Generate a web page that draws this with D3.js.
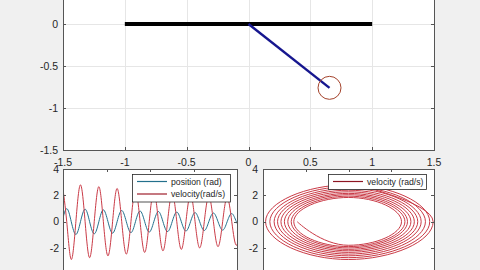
<!DOCTYPE html>
<html>
<head>
<meta charset="utf-8">
<script src="https://cdn.jsdelivr.net/npm/d3@7"></script>
<style>
  html, body { margin: 0; padding: 0; background: #f0f0f0; overflow: hidden; }
  svg { display: block; font-family: 'Liberation Sans', Arial, sans-serif; }
</style>
</head>
<body>
<script>
// pendulum snapshot (top axes)
var baseX = [-1, 1],
    baseY = [0, 0],
    rodX  = [0, 0.655],
    rodY  = [0, -0.76];

var topTicks = [-1.5, -1, -0.5, 0, 0.5, 1, 1.5];

// quarter-period samples (time in s)
var t   = [-0.10, 0.43, 0.95, 1.48, 2.01, 2.54, 3.06, 3.59, 4.12, 4.64,
           5.17, 5.70, 6.22, 6.75, 7.28, 7.81, 8.33, 8.86, 9.39, 9.91,
           10.44, 10.97, 11.49, 12.02, 12.55, 13.08, 13.60, 14.13, 14.66, 15.18,
           15.71, 16.24, 16.76, 17.29, 17.82, 18.35, 18.87, 19.40, 19.93, 20.45],
    pos = [0, 0.99, 0, -0.97, 0, 0.95, 0, -0.92, 0, 0.90,
           0, -0.87, 0, 0.85, 0, -0.83, 0, 0.81, 0, -0.79,
           0, 0.77, 0, -0.75, 0, 0.73, 0, -0.71, 0, 0.69,
           0, -0.67, 0, 0.66, 0, -0.64, 0, 0.62, 0, -0.60],
    vel = [2.95, 0, -2.87, 0, 2.80, 0, -2.73, 0, 2.66, 0,
           -2.59, 0, 2.52, 0, -2.46, 0, 2.39, 0, -2.33, 0,
           2.27, 0, -2.21, 0, 2.15, 0, -2.10, 0, 2.05, 0,
           -1.99, 0, 1.94, 0, -1.89, 0, 1.84, 0, -1.79, 0];

var timeTicks = [0, 5, 10, 15, 20],
    rateTicks = [-4, -2, 0, 2, 4],
    posTicks  = [-1, -0.5, 0, 0.5, 1];

var legendLeft  = ['position (rad)', 'velocity(rad/s)'],
    legendRight = ['velocity (rad/s)'];

var width  = 480,
    height = 270,
    INK    = '#262626',
    FRAME  = '#555555',
    GRID   = '#e6e6e6',
    BLUE   = '#23708c',
    RED    = '#c93a46',
    idx    = d3.range(t.length);

var svg = d3.select('body').append('svg')
    .attr('width', width)
    .attr('height', height);

svg.append('rect')
    .attr('width', width)
    .attr('height', height)
    .attr('fill', '#f0f0f0');

// scales
var xTop = d3.scaleLinear().domain([-1.5, 1.5]).range([63, 434]),
    yTop = d3.scaleLinear().domain([-1.5, 1.5]).range([150, -102]),
    xBL  = d3.scaleLinear().domain([0, 20]).range([63, 237]),
    yBL  = d3.scaleLinear().domain([-4, 4]).range([274.4, 169]),
    xBR  = d3.scaleLinear().domain([-1, 1]).range([263, 434]),
    yBR  = d3.scaleLinear().domain([-4, 4]).range([274.4, 169]);

function axesBack(x, y, xt, yt, grid) {
    var r = x.range(), s = y.range(),
        g = svg.append('g');
    g.append('rect')
        .attr('x', r[0]).attr('y', s[1])
        .attr('width', r[1] - r[0]).attr('height', s[0] - s[1])
        .attr('fill', '#fff');
    if (grid) {
        g.selectAll('.gx').data(xt).enter().append('line')
            .attr('x1', function(d) { return Math.round(x(d)) + 0.5; })
            .attr('x2', function(d) { return Math.round(x(d)) + 0.5; })
            .attr('y1', s[0]).attr('y2', s[1])
            .attr('stroke', GRID);
        g.selectAll('.gy').data(yt).enter().append('line')
            .attr('y1', function(d) { return Math.round(y(d)) + 0.5; })
            .attr('y2', function(d) { return Math.round(y(d)) + 0.5; })
            .attr('x1', r[0]).attr('x2', r[1])
            .attr('stroke', GRID);
    }
    return g;
}

function axesFront(x, y, xt, yt, ylabX) {
    var r = x.range(), s = y.range(),
        g = svg.append('g'),
        tk = 3;
    g.append('rect')
        .attr('x', Math.round(r[0]) + 0.5).attr('y', Math.round(s[1]) + 0.5)
        .attr('width', Math.round(r[1] - r[0])).attr('height', Math.round(s[0] - s[1]))
        .attr('fill', 'none')
        .attr('stroke', FRAME);
    xt.forEach(function(d) {
        var px = Math.round(x(d)) + 0.5;
        g.append('line').attr('x1', px).attr('x2', px)
            .attr('y1', s[0]).attr('y2', s[0] - tk).attr('stroke', FRAME);
        g.append('line').attr('x1', px).attr('x2', px)
            .attr('y1', s[1]).attr('y2', s[1] + tk).attr('stroke', FRAME);
        g.append('text')
            .attr('x', x(d)).attr('y', s[0] + 16)
            .attr('text-anchor', 'middle')
            .attr('font-size', '10.5px')
            .attr('fill', INK)
            .text(String(d));
    });
    yt.forEach(function(d) {
        var py = Math.round(y(d)) + 0.5;
        g.append('line').attr('y1', py).attr('y2', py)
            .attr('x1', r[0]).attr('x2', r[0] + tk).attr('stroke', FRAME);
        g.append('line').attr('y1', py).attr('y2', py)
            .attr('x1', r[1]).attr('x2', r[1] - tk).attr('stroke', FRAME);
        g.append('text')
            .attr('x', ylabX).attr('y', y(d))
            .attr('dy', '0.36em')
            .attr('text-anchor', 'end')
            .attr('font-size', '10.5px')
            .attr('fill', INK)
            .text(String(d));
    });
}

function clipFor(id, x, y) {
    var r = x.range(), s = y.range();
    svg.append('clipPath').attr('id', id)
        .append('rect')
        .attr('x', r[0]).attr('y', s[1])
        .attr('width', r[1] - r[0]).attr('height', s[0] - s[1]);
    return 'url(#' + id + ')';
}

function legend(x0, y0, w, h, labels, colors, rowH) {
    var g = svg.append('g');
    g.append('rect')
        .attr('x', x0 + 0.5).attr('y', y0 + 0.5)
        .attr('width', w).attr('height', h)
        .attr('fill', '#fff')
        .attr('stroke', INK)
        .attr('stroke-width', 0.8);
    labels.forEach(function(l, i) {
        var cy = y0 + 7.5 + i * rowH;
        g.append('line')
            .attr('x1', x0 + 5).attr('x2', x0 + 35)
            .attr('y1', cy).attr('y2', cy)
            .attr('stroke', colors[i]).attr('stroke-width', 1.2);
        g.append('text')
            .attr('x', x0 + 39).attr('y', cy + 3.2)
            .attr('font-size', '8.7px')
            .attr('fill', INK)
            .text(l);
    });
}

// ---- top: pendulum ----
axesBack(xTop, yTop, topTicks, topTicks, true);

svg.append('line')
    .attr('x1', xTop(baseX[0])).attr('x2', xTop(baseX[1]))
    .attr('y1', yTop(baseY[0])).attr('y2', yTop(baseY[1]))
    .attr('stroke', '#000')
    .attr('stroke-width', 4);

svg.append('line')
    .attr('x1', xTop(rodX[0])).attr('x2', xTop(rodX[1]))
    .attr('y1', yTop(rodY[0])).attr('y2', yTop(rodY[1]))
    .attr('stroke', '#16168f')
    .attr('stroke-width', 2.4);

svg.append('circle')
    .attr('cx', xTop(rodX[1])).attr('cy', yTop(rodY[1]))
    .attr('r', 11.5)
    .attr('fill', 'none')
    .attr('stroke', '#a4432c')
    .attr('stroke-width', 1);

axesFront(xTop, yTop, topTicks, topTicks, 58);

// ---- bottom left: time series ----
axesBack(xBL, yBL, timeTicks, rateTicks, false);
var clipL = clipFor('clipL', xBL, yBL);

var gL = svg.append('g').attr('clip-path', clipL);
gL.append('path')
    .datum(idx)
    .attr('d', d3.line()
        .x(function(i) { return xBL(t[i]); })
        .y(function(i) { return yBL(pos[i]); })
        .curve(d3.curveNatural))
    .attr('fill', 'none')
    .attr('stroke', BLUE)
    .attr('stroke-width', 1);
gL.append('path')
    .datum(idx)
    .attr('d', d3.line()
        .x(function(i) { return xBL(t[i]); })
        .y(function(i) { return yBL(vel[i]); })
        .curve(d3.curveNatural))
    .attr('fill', 'none')
    .attr('stroke', RED)
    .attr('stroke-width', 1);

axesFront(xBL, yBL, timeTicks, rateTicks, 59);
legend(132, 174, 98, 27.5, legendLeft, [BLUE, '#9e1f2c'], 12.5);

// ---- bottom right: phase portrait ----
axesBack(xBR, yBR, posTicks, rateTicks, false);
var clipR = clipFor('clipR', xBR, yBR);

// cardinal with negative tension keeps quarter-point loops round
svg.append('g').attr('clip-path', clipR)
    .append('path')
    .datum(idx)
    .attr('d', d3.line()
        .x(function(i) { return xBR(pos[i]); })
        .y(function(i) { return yBR(vel[i]); })
        .curve(d3.curveCardinal.tension(-0.55)))
    .attr('fill', 'none')
    .attr('stroke', RED)
    .attr('stroke-width', 1);

axesFront(xBR, yBR, posTicks, rateTicks, 258);
legend(328, 174, 98, 15, legendRight, ['#8e1522'], 12.5);
</script>
</body>
</html>
